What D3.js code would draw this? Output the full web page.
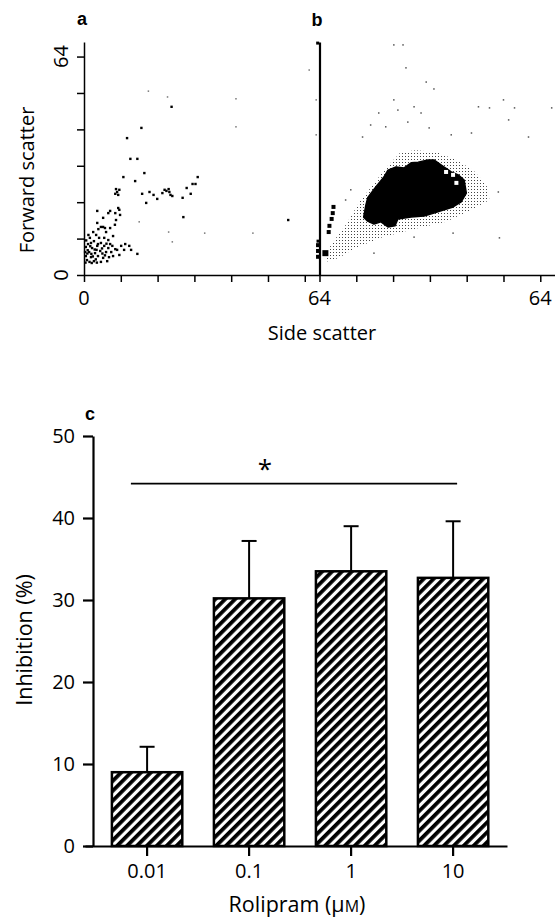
<!DOCTYPE html>
<html>
<head>
<meta charset="utf-8">
<script src="https://cdn.jsdelivr.net/npm/d3@7"></script>
<style>
    body { margin: 0; background: #fff; }
    svg { display: block; font-family: "Open Sans", sans-serif; }
</style>
</head>
<body>
<div id="chart"></div>
<script>

// ---------- panel c : bar chart ----------
const doses = ["0.01", "0.1", "1", "10"];
const inhibition = [9.0, 30.2, 33.5, 32.7];
const inhibitionErr = [3.1, 7.0, 5.5, 6.9];
const inhibTicks = [0, 10, 20, 30, 40, 50];
const sigLevel = 44.2;   // line over all doses
const starLevel = 47.2;

// ---------- panels a / b : flow cytometry ----------
const scatterTicks = [0, 10, 20, 30, 40, 50, 60];
const yTickLabels = [[0, "0"], [60, "64"]];
const xTickLabelsA = [[0, "0"], [64, "64"]];
const xTickLabelsB = [[60, "64"]];

// panel a events [side scatter, forward scatter]
const eventsA = [
    [15.6, 40.4], [11.7, 37.6], [12.6, 31.9], [14.5, 31.9], [16.4, 28.0], [10.7, 26.9], [13.9, 25.8], [30.9, 26.9],
    [9.0, 22.8], [8.7, 23.6], [9.3, 22.0], [8.5, 22.3], [9.6, 23.4],
    [15.8, 22.3], [17.8, 22.8], [18.9, 22.0], [16.9, 19.8], [19.9, 20.9],
    [22.4, 23.1], [21.9, 23.4], [23.2, 22.8], [23.0, 23.6], [21.3, 22.5], [23.5, 22.0], [24.0, 21.7],
    [26.8, 21.2], [29.0, 22.3], [27.9, 23.9], [29.5, 25.0], [30.3, 25.0], [27.0, 15.9],
    [3.6, 17.6], [6.6, 17.0], [7.1, 17.6], [9.8, 16.5], [9.6, 17.9], [8.7, 15.1], [5.2, 15.7],
    [4.6, 13.2], [5.7, 12.9], [3.6, 14.3], [8.5, 17.0], [9.3, 18.4], [7.1, 12.9], [5.2, 13.2],
    [2.5, 11.8], [3.3, 11.0], [1.6, 10.2], [4.1, 10.2], [2.7, 9.3], [1.1, 8.5], [4.6, 8.8], [0.5, 7.7],
    [2.2, 7.4], [3.6, 8.0], [5.5, 8.0], [6.6, 7.4], [7.7, 8.0], [1.4, 6.3], [3.0, 6.0], [4.4, 6.6],
    [6.0, 6.3], [7.4, 6.3], [8.5, 7.1], [0.5, 5.2], [1.9, 4.9], [3.8, 5.2], [5.2, 4.7], [6.8, 4.9],
    [2.7, 3.8], [0.8, 4.1], [4.6, 3.6], [9.0, 6.9], [7.9, 5.2], [6.3, 3.8], [3.8, 8.5], [5.5, 10.2],
    [6.6, 9.6], [1.9, 8.8], [1.0, 6.8], [2.0, 5.8], [0.6, 9.5], [1.5, 3.6], [3.2, 4.3], [5.0, 5.9],
    [2.9, 7.0], [4.9, 7.3], [6.1, 8.6], [0.4, 3.4], [1.2, 11.0], [3.9, 12.6], [6.0, 11.8], [7.9, 10.7],
    [8.4, 13.8], [10.1, 8.0], [11.2, 8.5], [12.3, 8.0], [10.9, 6.9], [12.8, 6.9], [9.6, 5.5], [7.1, 8.5],
    [14.5, 5.8], [23.8, 46.2], [55.5, 15.1],
    [0.9, 5.9], [2.4, 5.1], [3.4, 6.9], [1.7, 7.9], [0.3, 6.3], [2.1, 3.3], [3.5, 3.4], [5.7, 5.4]
];
const faintA = [
    [17.5, 50.5], [22.7, 48.9], [41.3, 48.4], [41.3, 40.7], [45.9, 11.5], [23.0, 11.8], [24.0, 9.1],
    [15.0, 14.6], [32.8, 11.5], [61.2, 56.3], [63.1, 48.1], [63.1, 38.5]
];

// panel b: main population outline
const blobB = [
    [12.0, 15.9], [12.6, 19.2], [13.1, 21.2], [15.3, 24.2], [17.5, 26.9], [18.6, 28.8], [20.8, 29.7],
    [23.0, 29.4], [24.9, 30.8], [26.8, 31.0], [29.5, 31.6], [31.1, 31.6], [33.1, 30.2], [35.8, 28.3],
    [37.7, 27.5], [39.3, 26.1], [39.9, 22.5], [38.5, 20.1], [36.3, 18.7], [33.9, 17.9], [31.1, 17.0],
    [28.4, 16.2], [24.9, 15.9], [21.3, 15.4], [20.5, 13.5], [18.6, 13.2], [16.7, 14.6], [14.8, 14.0],
    [13.1, 14.8]
];
// lighter halo around it
const haloB = [
    [1.6, 3.6], [3.0, 8.2], [7.1, 13.7], [11.2, 20.6], [14.5, 24.7], [18.0, 29.4], [22.1, 33.8],
    [26.2, 34.3], [31.7, 33.8], [37.2, 31.6], [41.8, 28.8], [45.4, 24.7], [46.2, 20.6], [41.3, 17.9],
    [34.4, 14.6], [24.9, 12.4], [16.7, 10.2], [9.8, 7.4], [5.2, 4.7]
];
const holesB = [[34.4, 28.3], [36.3, 27.5], [37.2, 25.3]];
// dense marks [x, y, size px]
const darkB = [
    [3.8, 18.7, 4], [3.6, 17.0, 4], [3.3, 15.4, 4], [2.7, 13.5, 4], [2.5, 11.8, 4],
    [1.6, 6.0, 6], [-0.4, 5.0, 4], [-0.4, 6.6, 4], [-0.4, 8.2, 4], [-0.4, 9.3, 3], [-0.5, 63.7, 3]
];
const eventsB = [
    [20.2, 63.2], [22.7, 63.2], [23.5, 56.9], [29.0, 53.0], [31.1, 51.1], [20.2, 48.1], [16.1, 44.5],
    [21.3, 45.3], [25.7, 46.2], [27.6, 44.5], [13.9, 41.2], [18.0, 40.7], [24.0, 42.0], [29.8, 40.4],
    [35.8, 38.5], [41.3, 39.0], [43.2, 46.2], [46.2, 45.9], [50.0, 48.1], [51.4, 42.6], [53.0, 45.9],
    [56.8, 37.9], [63.1, 45.9], [48.6, 22.8], [48.9, 10.2], [36.3, 11.5], [25.7, 10.4], [14.8, 6.0],
    [11.7, 37.9], [7.1, 20.6], [8.5, 23.4]
];

const W = 555, H = 918;

const svg = d3.select("#chart").append("svg")
    .attr("width", W)
    .attr("height", H);

// patterns
let defs = svg.append("defs");
defs.append("pattern")
    .attr("id", "hatch")
    .attr("patternUnits", "userSpaceOnUse")
    .attr("width", 7).attr("height", 7)
    .attr("patternTransform", "rotate(45)")
    .append("rect")
    .attr("width", 3.8).attr("height", 7)
    .attr("fill", "#000");
let stip = defs.append("pattern")
    .attr("id", "stipple")
    .attr("patternUnits", "userSpaceOnUse")
    .attr("width", 3).attr("height", 3);
stip.append("rect").attr("width", 1).attr("height", 1).attr("fill", "#444");

/* ---------- scatter panels ---------- */

let sy = d3.scaleLinear().domain([0, 64]).range([275, 42]);
let sxA = d3.scaleLinear().domain([0, 64]).range([84, 319.5]);
let sxB = d3.scaleLinear().domain([0, 64]).range([319.5, 555]);

// y axis a
svg.append("g")
    .attr("class", "axis")
    .attr("transform", "translate(84,0)")
    .call(d3.axisLeft(sy).tickValues(scatterTicks).tickSize(7).tickSizeOuter(0).tickFormat(""));

// y axis b (no ticks)
svg.append("g")
    .attr("class", "axis axis-b")
    .attr("transform", "translate(319.5,0)")
    .call(d3.axisLeft(sy).tickValues([]).tickSizeOuter(0));

// x axes
svg.append("g")
    .attr("class", "axis")
    .attr("transform", "translate(0,275)")
    .call(d3.axisBottom(sxA).tickValues(scatterTicks).tickSize(7).tickSizeOuter(0).tickFormat(""));
svg.append("g")
    .attr("class", "axis")
    .attr("transform", "translate(0,275)")
    .call(d3.axisBottom(sxB).tickValues(scatterTicks).tickSize(7).tickSizeOuter(0).tickFormat(""));

svg.selectAll(".axis path, .axis line")
    .attr("stroke", "#000")
    .attr("stroke-width", 1.5);
svg.selectAll(".axis-b path").attr("stroke-width", 2.2);

// tick labels (rotated on y)
svg.selectAll(".ylab")
    .data(yTickLabels)
    .enter().append("text")
    .attr("class", "ylab")
    .attr("transform", d => `translate(68,${sy(d[0])}) rotate(-90)`)
    .attr("text-anchor", "middle")
    .attr("font-size", 20)
    .text(d => d[1]);

svg.selectAll(".xlabA")
    .data(xTickLabelsA)
    .enter().append("text")
    .attr("class", "xlabA")
    .attr("x", d => sxA(d[0]))
    .attr("y", 305)
    .attr("text-anchor", "middle")
    .attr("font-size", 20)
    .text(d => d[1]);

svg.selectAll(".xlabB")
    .data(xTickLabelsB)
    .enter().append("text")
    .attr("class", "xlabB")
    .attr("x", d => sxB(d[0]))
    .attr("y", 305)
    .attr("text-anchor", "middle")
    .attr("font-size", 20)
    .text(d => d[1]);

svg.append("text")
    .attr("transform", "translate(34,180) rotate(-90)")
    .attr("text-anchor", "middle")
    .attr("font-size", 20)
    .text("Forward scatter");

svg.append("text")
    .attr("x", 322)
    .attr("y", 340)
    .attr("text-anchor", "middle")
    .attr("font-size", 20)
    .text("Side scatter");

svg.append("text")
    .attr("x", 82).attr("y", 25)
    .attr("text-anchor", "middle")
    .attr("font-size", 18)
    .attr("font-weight", "bold")
    .attr("font-family", "Liberation Sans, Arial, sans-serif")
    .text("a");
svg.append("text")
    .attr("x", 317).attr("y", 26)
    .attr("text-anchor", "middle")
    .attr("font-size", 18)
    .attr("font-weight", "bold")
    .attr("font-family", "Liberation Sans, Arial, sans-serif")
    .text("b");

// panel a dots
svg.append("g").selectAll("rect")
    .data(faintA)
    .enter().append("rect")
    .attr("x", d => sxA(d[0]) - 0.75)
    .attr("y", d => sy(d[1]) - 0.75)
    .attr("width", 1.5).attr("height", 1.5)
    .attr("fill", "#777");

svg.append("g").selectAll("rect")
    .data(eventsA)
    .enter().append("rect")
    .attr("x", d => sxA(d[0]) - 1.2)
    .attr("y", d => sy(d[1]) - 1.2)
    .attr("width", 2.4).attr("height", 2.4)
    .attr("fill", "#000");

// panel b
let lineB = d3.line()
    .x(d => sxB(d[0]))
    .y(d => sy(d[1]))
    .curve(d3.curveLinearClosed);

svg.append("path")
    .attr("d", lineB(haloB))
    .attr("fill", "url(#stipple)");

svg.append("path")
    .attr("d", lineB(blobB))
    .attr("fill", "#000")
    .attr("stroke", "#000")
    .attr("stroke-width", 1.5)
    .attr("stroke-linejoin", "round");

svg.append("g").selectAll("rect")
    .data(holesB)
    .enter().append("rect")
    .attr("x", d => sxB(d[0]) - 2)
    .attr("y", d => sy(d[1]) - 2)
    .attr("width", 4).attr("height", 4)
    .attr("fill", "#fff");

svg.append("g").selectAll("rect")
    .data(darkB)
    .enter().append("rect")
    .attr("x", d => sxB(d[0]) - d[2] / 2)
    .attr("y", d => sy(d[1]) - d[2] / 2)
    .attr("width", d => d[2]).attr("height", d => d[2])
    .attr("fill", "#000");

svg.append("g").selectAll("rect")
    .data(eventsB)
    .enter().append("rect")
    .attr("x", d => sxB(d[0]) - 0.75)
    .attr("y", d => sy(d[1]) - 0.75)
    .attr("width", 1.5).attr("height", 1.5)
    .attr("fill", "#555");

/* ---------- panel c ---------- */

let yC = d3.scaleLinear().domain([0, 50]).range([846, 436]);
let xC = d3.scaleBand()
    .domain(doses)
    .range([85, 507])
    .paddingInner(0.31)
    .paddingOuter(0.2235)
    .align(0.59);

let barData = doses.map((d, i) => ({dose: d, value: inhibition[i], err: inhibitionErr[i]}));

svg.append("g")
    .attr("class", "axisc")
    .attr("transform", "translate(93,0)")
    .call(d3.axisLeft(yC).tickValues(inhibTicks).tickSize(10).tickSizeOuter(0).tickPadding(8));

svg.append("g")
    .attr("class", "axisc")
    .attr("transform", "translate(0,846)")
    .call(d3.axisBottom(xC).tickSize(10).tickSizeOuter(0).tickPadding(8));

svg.selectAll(".axisc path, .axisc line")
    .attr("stroke", "#000")
    .attr("stroke-width", 2.2);
svg.selectAll(".axisc text")
    .attr("font-size", 20)
    .attr("font-family", "Open Sans, sans-serif")
    .attr("fill", "#000");

// bars
svg.append("g").selectAll("rect")
    .data(barData)
    .enter().append("rect")
    .attr("x", d => xC(d.dose))
    .attr("y", d => yC(d.value))
    .attr("width", xC.bandwidth())
    .attr("height", d => yC(0) - yC(d.value))
    .attr("fill", "url(#hatch)")
    .attr("stroke", "#000")
    .attr("stroke-width", 2.5);

// error bars
let errG = svg.append("g").selectAll("g")
    .data(barData)
    .enter().append("g");
errG.append("line")
    .attr("x1", d => xC(d.dose) + xC.bandwidth() / 2)
    .attr("x2", d => xC(d.dose) + xC.bandwidth() / 2)
    .attr("y1", d => yC(d.value))
    .attr("y2", d => yC(d.value + d.err))
    .attr("stroke", "#000")
    .attr("stroke-width", 2);
errG.append("line")
    .attr("x1", d => xC(d.dose) + xC.bandwidth() / 2 - 7.5)
    .attr("x2", d => xC(d.dose) + xC.bandwidth() / 2 + 7.5)
    .attr("y1", d => yC(d.value + d.err))
    .attr("y2", d => yC(d.value + d.err))
    .attr("stroke", "#000")
    .attr("stroke-width", 2);

// significance line + star
svg.append("line")
    .attr("x1", xC(doses[0]) + 19)
    .attr("x2", xC(doses[3]) + xC.bandwidth() / 2 + 4)
    .attr("y1", yC(sigLevel))
    .attr("y2", yC(sigLevel))
    .attr("stroke", "#000")
    .attr("stroke-width", 1.8);

svg.append("text")
    .attr("x", 265)
    .attr("y", yC(starLevel))
    .attr("dy", "0.75em")
    .attr("text-anchor", "middle")
    .attr("font-size", 26)
    .text("*");

svg.append("text")
    .attr("x", 90).attr("y", 420)
    .attr("text-anchor", "middle")
    .attr("font-size", 18)
    .attr("font-weight", "bold")
    .attr("font-family", "Liberation Sans, Arial, sans-serif")
    .text("c");

svg.append("text")
    .attr("transform", "translate(32,640) rotate(-90)")
    .attr("text-anchor", "middle")
    .attr("font-size", 21.5)
    .text("Inhibition (%)");

let xt = svg.append("text")
    .attr("x", 297)
    .attr("y", 912)
    .attr("text-anchor", "middle")
    .attr("font-size", 21.5)
    .text("Rolipram (μ");
xt.append("tspan").attr("font-size", 16).text("M");
xt.append("tspan").text(")");

</script>
</body>
</html>
